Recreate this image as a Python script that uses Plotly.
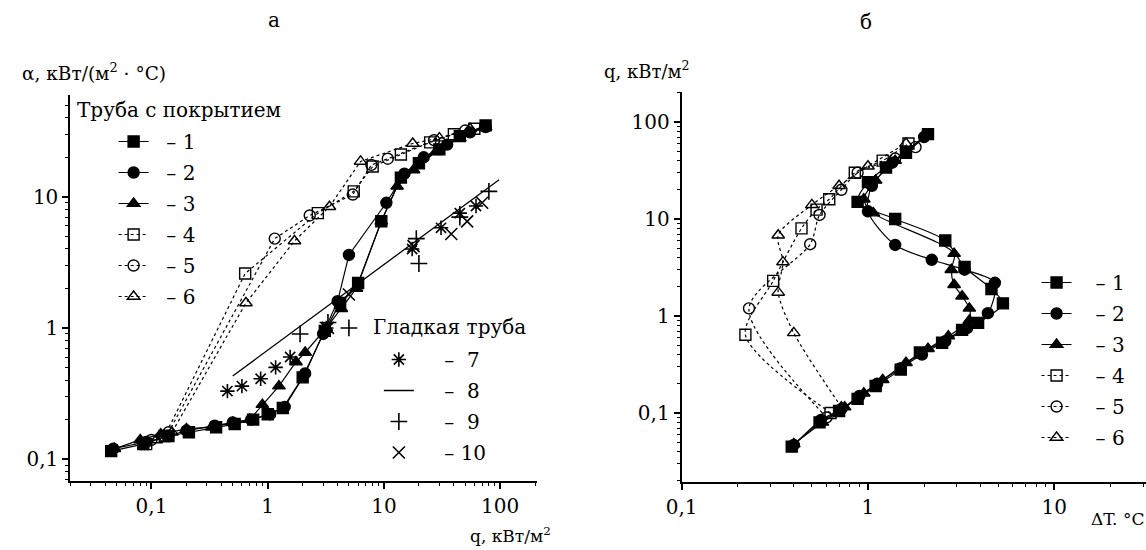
import plotly.graph_objects as go

# ---------------- data: panel "а"  (alpha vs q) ----------------
q1 = [0.045, 0.085, 0.14, 0.21, 0.36, 0.52, 0.75, 1.0, 1.35, 2.0, 3.1, 4.2, 6.0, 9.5, 14, 20, 30, 45, 75]
a1 = [0.115, 0.13, 0.15, 0.16, 0.175, 0.185, 0.2, 0.22, 0.245, 0.42, 0.95, 1.55, 2.2, 6.5, 14, 18, 23, 29, 35]
q2 = [0.047, 0.09, 0.14, 0.2, 0.35, 0.5, 0.72, 1.05, 1.4, 2.1, 3.0, 4.0, 5.0, 10.5, 15, 22, 35, 55, 75]
a2 = [0.12, 0.135, 0.15, 0.165, 0.18, 0.19, 0.2, 0.22, 0.25, 0.45, 0.9, 1.6, 3.6, 9.0, 15, 20, 25, 31, 34]
q3 = [0.048, 0.08, 0.12, 0.2, 0.33, 0.5, 0.7, 0.9, 1.25, 1.75, 2.1, 3.2, 4.3, 5.8, 9.5, 13, 18, 28, 45, 75]
a3 = [0.12, 0.14, 0.155, 0.17, 0.175, 0.19, 0.2, 0.26, 0.36, 0.55, 0.65, 1.0, 1.4, 2.0, 6.5, 12, 16, 22, 28, 34]
q4 = [0.09, 0.13, 0.64, 2.7, 5.5, 8, 14, 25, 40, 60]
a4 = [0.13, 0.15, 2.6, 7.5, 11, 17, 21, 26, 30, 33]
q5 = [0.1, 0.14, 1.15, 2.3, 5.4, 7.8, 10.8, 27, 50]
a5 = [0.14, 0.16, 4.8, 7.2, 10.4, 17.5, 19.5, 27, 32]
q6 = [0.11, 0.15, 0.65, 1.7, 3.4, 6.3, 17.7, 30, 55]
a6 = [0.14, 0.16, 1.55, 4.6, 8.4, 18.6, 25.5, 28, 33]
q7 = [0.45, 0.6, 0.87, 1.17, 1.56, 3.2, 17.5, 31, 45, 62]
a7 = [0.33, 0.36, 0.41, 0.5, 0.6, 1.0, 4.0, 5.8, 7.5, 8.5]
q8 = [0.5, 98]
a8 = [0.43, 13.5]
q9 = [1.9, 3.3, 5.0, 19, 20, 45, 80]
a9 = [0.9, 1.1, 1.0, 4.8, 3.1, 7.0, 11]
q10 = [3.3, 5.0, 18, 38, 52, 70]
a10 = [1.0, 1.8, 4.2, 5.2, 6.5, 9.0]

# ---------------- data: panel "б"  (q vs dT) ----------------
dT1 = [0.39, 0.55, 0.70, 0.88, 1.1, 1.5, 1.9, 2.5, 3.2, 3.9, 5.3, 4.6, 3.3, 2.6, 1.4, 0.88, 1.0, 1.25, 1.6, 2.1]
qr1 = [0.045, 0.08, 0.105, 0.14, 0.19, 0.28, 0.42, 0.53, 0.72, 0.85, 1.35, 1.9, 3.2, 6.0, 10, 15, 24, 34, 48, 75]
dT2 = [0.40, 0.56, 0.72, 0.9, 1.12, 1.5, 1.95, 2.6, 3.4, 4.4, 4.8, 3.3, 2.2, 1.4, 1.0, 1.05, 1.35, 2.0]
qr2 = [0.047, 0.085, 0.11, 0.15, 0.2, 0.29, 0.4, 0.55, 0.75, 1.07, 2.2, 3.0, 3.8, 5.4, 12, 22, 38, 70]
dT3 = [0.40, 0.57, 0.75, 0.95, 1.2, 1.6, 2.1, 2.7, 3.5, 3.5, 3.2, 2.9, 2.8, 2.9, 1.07, 0.95, 1.1, 1.4, 2.05]
qr3 = [0.048, 0.08, 0.115, 0.16, 0.22, 0.33, 0.46, 0.62, 0.9, 1.2, 1.6, 2.1, 3.0, 4.4, 11.5, 16, 25, 40, 72]
dT4 = [0.63, 0.22, 0.31, 0.44, 0.53, 0.62, 0.85, 1.2, 1.65]
qr4 = [0.10, 0.64, 2.3, 8.0, 12.5, 16, 30, 40, 60]
dT5 = [0.60, 0.23, 0.49, 0.55, 0.72, 0.88, 1.4, 1.8]
qr5 = [0.09, 1.2, 5.5, 11, 20, 30, 42, 55]
dT6 = [0.72, 0.40, 0.33, 0.35, 0.33, 0.50, 0.70, 1.0, 1.6]
qr6 = [0.115, 0.67, 1.75, 3.6, 6.8, 14, 22, 35, 60]

names_coated = ["– 1", "– 2", "– 3", "– 4", "– 5", "– 6"]
names_smooth = ["–  7", "–  8", "–  9", "– 10"]
tick_vals = [0.1, 1, 10, 100]
tick_text = ["0,1", "1", "10", "100"]

W, H = 1146, 550
FONT = "DejaVu Serif, Liberation Serif, serif"


def px(x):
    return x / W


def py(y):
    return 1 - y / H


fig = go.Figure()

coated_style = [
    ("square", "solid"), ("circle", "solid"), ("triangle-up", "solid"),
    ("square-open", "dot"), ("circle-open", "dot"), ("triangle-up-open", "dot"),
]

left_sets = [(q1, a1), (q2, a2), (q3, a3), (q4, a4), (q5, a5), (q6, a6)]
right_sets = [(dT1, qr1), (dT2, qr2), (dT3, qr3), (dT4, qr4), (dT5, qr5), (dT6, qr6)]

for i, ((xs, ys), (sym, dash)) in enumerate(zip(left_sets, coated_style)):
    fig.add_trace(go.Scatter(
        x=xs, y=ys, mode="lines+markers", name="  " + names_coated[i],
        xaxis="x", yaxis="y", legend="legend", legendgroup="a%d" % i,
        line=dict(color="black", width=1.2, dash=dash),
        marker=dict(symbol=sym, size=11, color="black", line=dict(color="black", width=1.4)),
    ))

smooth_sets = [(q7, a7, "asterisk-open", "markers"), (q8, a8, None, "lines"),
               (q9, a9, "cross-thin-open", "markers"), (q10, a10, "x-thin-open", "markers")]
for i, (xs, ys, sym, mode) in enumerate(smooth_sets):
    kw = dict(x=xs, y=ys, mode=mode, name="    " + names_smooth[i],
              xaxis="x", yaxis="y", legend="legend2", legendgroup="s%d" % i)
    if mode == "lines":
        kw["line"] = dict(color="black", width=1.3)
    else:
        kw["marker"] = dict(symbol=sym, size=12, color="black", line=dict(color="black", width=1.6))
    fig.add_trace(go.Scatter(**kw))

for i, ((xs, ys), (sym, dash)) in enumerate(zip(right_sets, coated_style)):
    fig.add_trace(go.Scatter(
        x=xs, y=ys, mode="lines+markers", name="   " + names_coated[i],
        xaxis="x2", yaxis="y2", legend="legend3", legendgroup="b%d" % i,
        line=dict(color="black", width=1.2, dash=dash, shape="spline", smoothing=0.8),
        marker=dict(symbol=sym, size=11, color="black", line=dict(color="black", width=1.4)),
    ))


def minor_vals(lo, hi):
    out = []
    d = lo
    while d < hi:
        for m in range(2, 10):
            out.append(m * d)
        d *= 10
    return out


axis_common = dict(
    type="log", showline=True, linecolor="black", linewidth=1.8,
    ticks="outside", ticklen=6, tickwidth=1.5, tickcolor="black",
    showgrid=False, zeroline=False,
    tickvals=tick_vals, ticktext=tick_text,
    tickfont=dict(family=FONT, size=20, color="black"),
    minor=dict(tickvals=minor_vals(0.01, 1000), ticks="outside", ticklen=3,
               tickcolor="black", tickwidth=1.2, showgrid=False),
)

legend_common = dict(xanchor="left", yanchor="top", bgcolor="rgba(0,0,0,0)",
                     font=dict(family=FONT, size=20, color="black"),
                     tracegroupgap=2, itemwidth=30)

fig.update_layout(
    width=W, height=H,
    margin=dict(l=0, r=0, t=0, b=0),
    paper_bgcolor="white", plot_bgcolor="white",
    font=dict(family=FONT, color="black"),
    xaxis=dict(domain=[px(55), px(528)], range=[-1.699, 2.314], anchor="y", **axis_common),
    yaxis=dict(domain=[1 - 481 / H, 1 - 95 / H], range=[-1.167, 1.776], anchor="x", **axis_common),
    xaxis2=dict(domain=[px(675), 1.0], range=[-1.0, 1.492], anchor="y2", **axis_common),
    yaxis2=dict(domain=[1 - 482 / H, 1 - 92 / H], range=[-1.711, 2.309], anchor="x2", **axis_common),
    legend=dict(x=px(99), y=py(122), **legend_common),
    legend2=dict(x=px(368), y=py(340), **legend_common),
    legend3=dict(x=px(1035), y=py(263), **legend_common),
    showlegend=True,
)

ann = [
    ("а", 262, 20, "center", 20),
    ("б", 862, 22, "center", 20),
    ("α, кВт/(м<sup>2</sup> · °C)", 4, 72, "left", 18.5),
    ("q, кВт/м<sup>2</sup>", 545, 535, "right", 17),
    ("q, кВт/м<sup>2</sup>", 594, 70, "left", 18),
    ("ΔT. °C", 1146, 519, "right", 17),
    ("Труба с покрытием", 60, 110, "left", 20),
    ("Гладкая труба", 360, 327, "left", 20),
]
for text, x, y, anchor, size in ann:
    fig.add_annotation(text=text, x=px(x), y=py(y), xref="paper", yref="paper",
                       xanchor=anchor, yanchor="middle", showarrow=False,
                       font=dict(family=FONT, size=size, color="black"))

fig.write_html("out.html", post_script="document.body.style.margin='0';")
